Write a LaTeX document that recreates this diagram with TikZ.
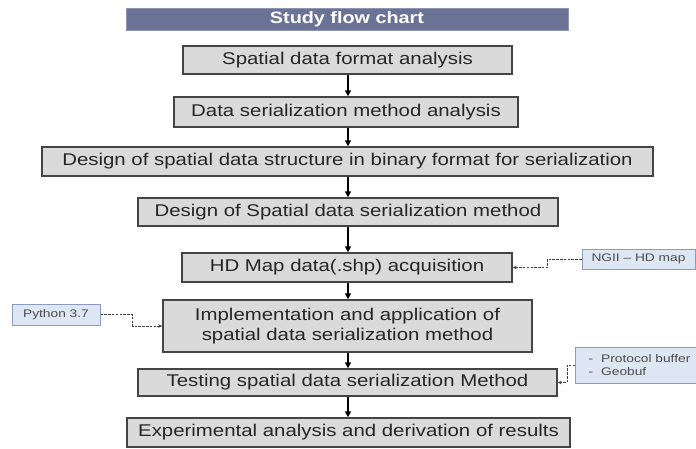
\documentclass[tikz,border=0pt]{standalone}
\usepackage{fontspec}
\setmainfont{Liberation Sans}[FakeStretch=1.2]
\newfontfamily\notefont{Liberation Sans}[FakeStretch=1.25]
\usetikzlibrary{arrows.meta}
\definecolor{boxfill}{HTML}{DADADA}
\definecolor{boxline}{HTML}{444444}
\definecolor{titlefill}{HTML}{6A7296}
\definecolor{notefill}{HTML}{DDE6F3}
\definecolor{noteline}{HTML}{8A9BBE}
\tikzset{
  stepbox/.style={draw=boxline, line width=1.4pt, fill=boxfill, inner sep=0pt,
    align=center, font=\fontsize{17}{20}\selectfont, text=black!85},
  notebox/.style={draw=noteline, line width=1pt, fill=notefill, inner sep=0pt,
    font=\notefont\fontsize{11}{13}\selectfont, text=black!70},
  flow/.style={-{Triangle[length=6pt,width=6pt]}, line width=1.6pt, black},
  link/.style={dashed, dash pattern=on 2.5pt off 1.3pt, line width=0.9pt, black!75,
    -{Stealth[length=4pt,width=3.5pt]}}
}
\begin{document}
\begin{tikzpicture}[x=1pt,y=-1pt]
\useasboundingbox (0,0) rectangle (696,448);
\fill[white] (0,0) rectangle (696,448);
\node[fill=titlefill, draw=titlefill!75!white, line width=1pt, minimum width=442pt, minimum height=22pt,
  inner sep=0pt, text=white, font=\bfseries\fontsize{16.5}{18}\selectfont] (title) at (347,19) {Study flow chart};
\node[stepbox, minimum width=329pt, minimum height=28pt] (b1) at (347.5,60) {Spatial data format analysis};
\node[stepbox, minimum width=344pt, minimum height=30pt] (b2) at (346,112) {Data serialization method analysis};
\node[stepbox, minimum width=611pt, minimum height=29pt] (b3) at (347.5,161.5) {Design of spatial data structure in binary format for serialization};
\node[stepbox, minimum width=420pt, minimum height=28pt] (b4) at (348,212) {Design of Spatial data serialization method};
\node[stepbox, minimum width=330pt, minimum height=29pt] (b5) at (347,267.5) {HD Map data(.shp) acquisition};
\node[stepbox, minimum width=369pt, minimum height=52pt] (b6) at (347.5,326) {Implementation and application of\\spatial data serialization method};
\node[stepbox, minimum width=419pt, minimum height=27pt] (b7) at (347.5,382.5) {Testing spatial data serialization Method};
\node[stepbox, minimum width=443pt, minimum height=29pt] (b8) at (348.5,432.5) {Experimental analysis and derivation of results};
\foreach \a/\b in {b1/b2,b2/b3,b3/b4,b4/b5,b5/b6,b6/b7,b7/b8}{
  \draw[flow] (\a.south -| 348,0) -- (\b.north -| 348,0);
}
\node[notebox, minimum width=113pt, minimum height=20pt] (ngii) at (638.5,259) {NGII – HD map};
\node[notebox, minimum width=88pt, minimum height=21pt] (py) at (56,314.5) {Python 3.7};
\node[notebox, minimum width=124pt, minimum height=36pt, align=left, anchor=west] (pb) at (575,365)
  {\hspace*{4pt}-\hspace{8pt}Protocol buffer\\\hspace*{4pt}-\hspace{8pt}Geobuf};
\draw[link] (ngii.west) -- ++(-34,0) |- (b5.east);
\draw[link] (py.east) -- ++(32,0) |- (b6.west);
\draw[link] (pb.west) -- ++(-8,0) |- (b7.east);
\end{tikzpicture}
\end{document}
